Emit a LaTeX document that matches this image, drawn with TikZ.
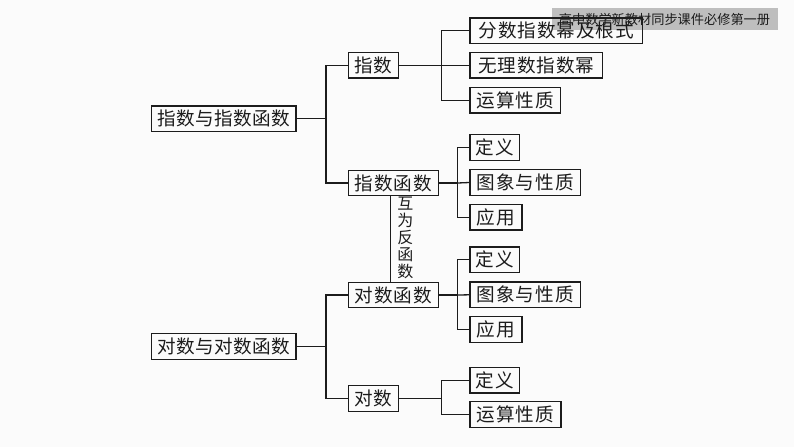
\documentclass[tikz,border=0pt]{standalone}
\usepackage{fontspec}
\setmainfont{Noto Sans CJK SC}
\definecolor{bgc}{HTML}{FBFBFB}
\definecolor{bannerc}{HTML}{BEBEBE}
\definecolor{inkc}{HTML}{1C1C1C}
\tikzset{
  lbox/.style={draw=inkc,line width=1.3pt,inner sep=0pt,text=inkc,font=\fontsize{18.6}{19}\selectfont\addfontfeature{LetterSpace=5},anchor=center},
  topbox/.style={lbox,font=\fontsize{18.6}{19}\selectfont\addfontfeature{LetterSpace=2}},
  wire/.style={draw=inkc,line width=1.3pt},
  vlabel/.style={inner sep=0pt,text=inkc,align=center,font=\fontsize{16}{16.9}\selectfont},
  bannertext/.style={inner sep=0pt,text=inkc,font=\fontsize{13.2}{14}\selectfont},
}
\begin{document}
\begin{tikzpicture}[x=1pt,y=-1pt]
\useasboundingbox (0,0) rectangle (794,447);
\fill[bgc] (0,0) rectangle (794,447);
\fill[bannerc] (551.7,8) rectangle (778,30);
\node[bannertext] (banner) at (664.5,19) {高中数学新教材同步课件必修第一册};
% level 1
\node[topbox,minimum width=144.3pt,minimum height=25.6pt] (zs) at (223.8,118.8) {指数与指数函数};
\node[topbox,minimum width=144.3pt,minimum height=25.6pt] (ds) at (223.8,346.5) {对数与对数函数};
% level 2
\node[lbox,minimum width=50pt,minimum height=25.4pt] (zhi) at (373.3,65.3) {指数};
\node[lbox,minimum width=90pt,minimum height=25.4pt] (zhs) at (393.3,183) {指数函数};
\node[lbox,minimum width=90pt,minimum height=25.4pt] (dhs) at (393.3,295) {对数函数};
\node[lbox,minimum width=50pt,minimum height=25.4pt] (dui) at (373.3,398.5) {对数};
% level 3
\node[lbox,minimum width=172.7pt,minimum height=25.3pt] (a1) at (556.3,30.6) {分数指数幂及根式};
\node[lbox,minimum width=132.5pt,minimum height=25.3pt] (a2) at (536.2,65.3) {无理数指数幂};
\node[lbox,minimum width=90.5pt,minimum height=25.3pt] (a3) at (515.2,100.2) {运算性质};
\node[lbox,minimum width=49.7pt,minimum height=25.6pt] (b1) at (494.8,147.5) {定义};
\node[lbox,minimum width=110.7pt,minimum height=25.6pt] (b2) at (525.3,182.5) {图象与性质};
\node[lbox,minimum width=52pt,minimum height=25.6pt] (b3) at (496,217.2) {应用};
\node[lbox,minimum width=49.7pt,minimum height=25.6pt] (c1) at (494.8,259.8) {定义};
\node[lbox,minimum width=110.7pt,minimum height=25.6pt] (c2) at (525.3,294.8) {图象与性质};
\node[lbox,minimum width=52pt,minimum height=25.6pt] (c3) at (496,329.4) {应用};
\node[lbox,minimum width=49.7pt,minimum height=25.4pt] (d1) at (494.8,380.3) {定义};
\node[lbox,minimum width=91pt,minimum height=25.6pt] (d2) at (515.5,414.5) {运算性质};
% label
\node[vlabel] (hw) at (405.3,238) {互\\为\\反\\函\\数};
% junctions
\coordinate (j0) at (326,118.8);
\coordinate (j1) at (326,346.5);
\coordinate (j2) at (441.3,65.3);
\coordinate (j3) at (457.7,183);
\coordinate (j4) at (457.7,295);
\coordinate (j5) at (441.3,398.5);
% connectors
\draw[wire] (zs.east) -- (j0);
\draw[wire] (zhi.west) -| (j0);
\draw[wire] (zhs.west) -| (j0);
\draw[wire] (ds.east) -- (j1);
\draw[wire] (dhs.west) -| (j1);
\draw[wire] (dui.west) -| (j1);
\draw[wire] (zhi.east) -- (j2);
\draw[wire] (a1.west) -| (j2);
\draw[wire] (a2.west) -- (j2);
\draw[wire] (a3.west) -| (j2);
\draw[wire] (zhs.east) -- (j3);
\draw[wire] (b1.west) -| (j3);
\draw[wire] (b2.west) -- (j3);
\draw[wire] (b3.west) -| (j3);
\draw[wire] (dhs.east) -- (j4);
\draw[wire] (c1.west) -| (j4);
\draw[wire] (c2.west) -- (j4);
\draw[wire] (c3.west) -| (j4);
\draw[wire] (dui.east) -- (j5);
\draw[wire] (d1.west) -| (j5);
\draw[wire] (d2.west) -| (j5);
\draw[wire] ([xshift=-3pt]zhs.south) -- ([xshift=-3pt]dhs.north);
\end{tikzpicture}
\end{document}
